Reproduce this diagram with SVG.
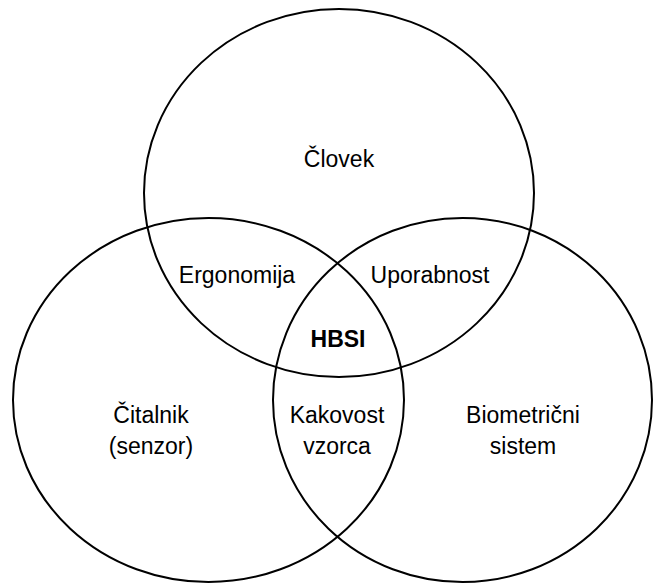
<svg xmlns="http://www.w3.org/2000/svg" width="653" height="584" viewBox="0 0 653 584">
  <style>
    .set { fill: none; stroke: #000; stroke-width: 2; }
    .lbl { font-family: "Liberation Sans", Arial, sans-serif; font-size: 23px; fill: #000; text-anchor: middle; }
    .core { font-weight: bold; }
  </style>
  <rect width="653" height="584" fill="#fff"/>

  <!-- three overlapping sets -->
  <g id="set-clovek">
    <ellipse class="set" cx="339" cy="193" rx="195" ry="184"/>
    <text class="lbl" x="339" y="167">Človek</text>
  </g>
  <g id="set-citalnik">
    <ellipse class="set" cx="208.5" cy="400" rx="195.5" ry="182"/>
    <text class="lbl" x="151" y="423">Čitalnik</text>
    <text class="lbl" x="151" y="454">(senzor)</text>
  </g>
  <g id="set-biometricni">
    <ellipse class="set" cx="462.5" cy="400" rx="189.5" ry="182"/>
    <text class="lbl" x="523" y="423">Biometrični</text>
    <text class="lbl" x="523" y="454">sistem</text>
  </g>

  <!-- overlap labels -->
  <g id="overlap-ergonomija">
    <text class="lbl" x="237" y="283">Ergonomija</text>
  </g>
  <g id="overlap-uporabnost">
    <text class="lbl" x="430" y="283">Uporabnost</text>
  </g>
  <g id="overlap-kakovost">
    <text class="lbl" x="337" y="423">Kakovost</text>
    <text class="lbl" x="337" y="454">vzorca</text>
  </g>
  <g id="center-hbsi">
    <text class="lbl core" x="338" y="347">HBSI</text>
  </g>

  <g id="connectors"></g>
</svg>
